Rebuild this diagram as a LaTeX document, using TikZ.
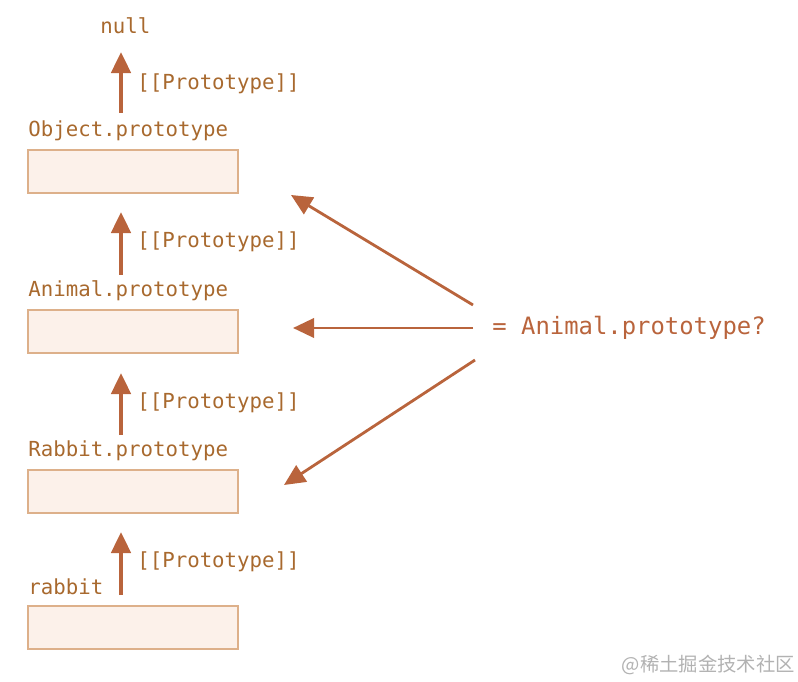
\documentclass[tikz,border=0pt]{standalone}
\usepackage{fontspec}
\setmonofont{DejaVu Sans Mono}
\newfontfamily\cjk{Noto Sans CJK SC}
\usetikzlibrary{arrows.meta}
\definecolor{protobrown}{HTML}{A8692E}
\definecolor{arrowbrown}{HTML}{B9643C}
\definecolor{boxfill}{HTML}{FCF1EA}
\definecolor{boxline}{HTML}{DDB08A}
\tikzset{
  objbox/.style={draw=boxline, fill=boxfill, line width=1.4pt},
  objlabel/.style={anchor=west, inner sep=0pt, text=protobrown, font=\ttfamily\fontsize{11.8}{14}\selectfont},
  protoarrow/.style={draw=arrowbrown, line width=2.2pt, -{Triangle[length=12pt,width=11pt]}},
  linkarrow/.style={draw=arrowbrown, line width=1.6pt, -{Triangle[length=12pt,width=11pt]}}
}
\begin{document}
\begin{tikzpicture}[x=0.02cm,y=-0.02cm]
\useasboundingbox (0,0) rectangle (798,682);

%Objekte
\foreach \name/\y/\txt in
{
obj/150/Object.prototype,
ani/310/Animal.prototype,
rab/470/Rabbit.prototype,
rabbit/606/rabbit
}
{
	\draw[objbox] (28,\y) rectangle (238,\y+43);
	\node[objlabel] (\name) at (28,\y-19) {\txt};
}
\node[objlabel] (null) at (100,26) {null};

%Prototyp-Pfeile
\foreach \a/\b/\ly in
{
113/52/84,
275/212/242,
435/373/403,
595/532/562
}
{
	\draw[protoarrow] (121,\a) -- (121,\b);
	\node[objlabel] at (137,\ly) {[[Prototype]]};
}

%Frage
\node[anchor=west, inner sep=0pt, text=arrowbrown, font=\ttfamily\fontsize{13.6}{16}\selectfont] (q) at (492,328) {= Animal.prototype?};
\draw[linkarrow] (473,305) -- (291,195);
\draw[linkarrow] (473,328) -- (293,328);
\draw[linkarrow] (475,360) -- (284,485);

\node[anchor=east, inner sep=0pt, text=gray!60, font=\cjk\fontsize{11}{13}\selectfont] (wm) at (795,665) {@稀土掘金技术社区};
\end{tikzpicture}
\end{document}
